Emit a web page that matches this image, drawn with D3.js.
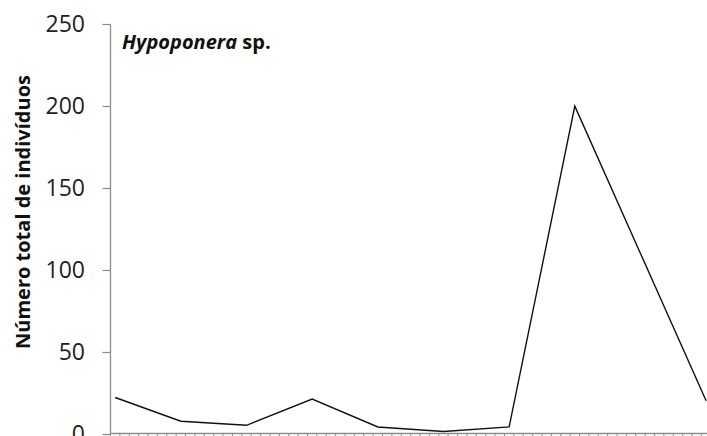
<!DOCTYPE html>
<html>
<head>
<meta charset="utf-8">
<script src="https://cdn.jsdelivr.net/npm/d3@7"></script>
<style>
  html, body { margin: 0; padding: 0; background: #fff; }
  svg { display: block; }
  .tick-label { font-family: "Open Sans", sans-serif; font-size: 23px; fill: #222; }
  .y-title { font-family: "Open Sans", sans-serif; font-size: 20px; font-weight: bold; fill: #111; }
  .chart-title { font-family: "Open Sans", sans-serif; font-size: 20px; font-weight: bold; fill: #111; }
</style>
</head>
<body>
<div id="chart"></div>
<script>
(function() {
    'use strict';

    // Amostras (uma a cada 7 categorias do eixo x)
    var amostras = [0, 7, 14, 21, 28, 35, 42, 49, 56, 63];
    var individuos = [22, 7.5, 5, 21, 4, 1.2, 4, 200, 110, 20];
    var yTicks = [0, 50, 100, 150, 200, 250];
    var nCategorias = 66;

    var width = 707, height = 436;
    var left = 110.5, top = 24.3, bottom = 433.5;
    var catWidth = 9.38;

    var svg = d3.select('#chart').append('svg')
        .attr('width', width)
        .attr('height', height);

    var x = d3.scaleLinear()
        .domain([0, nCategorias])
        .range([left, left + nCategorias * catWidth]);

    var y = d3.scaleLinear()
        .domain([0, 250])
        .range([bottom, top]);

    var axisColor = '#8c8c8c';

    // Y axis
    svg.append('line')
        .attr('x1', left).attr('x2', left)
        .attr('y1', y(250)).attr('y2', y(0))
        .attr('stroke', axisColor).attr('stroke-width', 1.3);

    yTicks.forEach(function(t) {
        svg.append('line')
            .attr('x1', left - 8).attr('x2', left)
            .attr('y1', Math.round(y(t)) + 0.5).attr('y2', Math.round(y(t)) + 0.5)
            .attr('stroke', axisColor).attr('stroke-width', 1.2);
        svg.append('text')
            .attr('class', 'tick-label')
            .attr('x', 85)
            .attr('y', y(t) + 8)
            .attr('text-anchor', 'end')
            .text(t);
    });

    // X axis with category ticks
    svg.append('line')
        .attr('x1', left).attr('x2', x(nCategorias))
        .attr('y1', y(0)).attr('y2', y(0))
        .attr('stroke', axisColor).attr('stroke-width', 1.3);

    d3.range(0, nCategorias + 1).forEach(function(i) {
        svg.append('line')
            .attr('x1', x(i)).attr('x2', x(i))
            .attr('y1', y(0)).attr('y2', y(0) + 5)
            .attr('stroke', axisColor).attr('stroke-width', 1);
    });

    // Series line
    var pontos = amostras.map(function(a, i) { return [a + 0.5, individuos[i]]; });
    var line = d3.line()
        .x(function(d) { return x(d[0]); })
        .y(function(d) { return y(d[1]); });

    svg.append('path')
        .datum(pontos)
        .attr('d', line)
        .attr('fill', 'none')
        .attr('stroke', '#111')
        .attr('stroke-width', 1.4)
        .attr('stroke-linejoin', 'miter');

    // Y title
    svg.append('text')
        .attr('class', 'y-title')
        .attr('transform', 'translate(30, 212) rotate(-90)')
        .attr('text-anchor', 'middle')
        .text('Número total de indivíduos');

    // Species title
    var title = svg.append('text')
        .attr('class', 'chart-title')
        .attr('x', 122)
        .attr('y', 49);
    title.append('tspan').attr('font-style', 'italic').text('Hypoponera');
    title.append('tspan').text(' sp.');
})();
</script>
</body>
</html>
